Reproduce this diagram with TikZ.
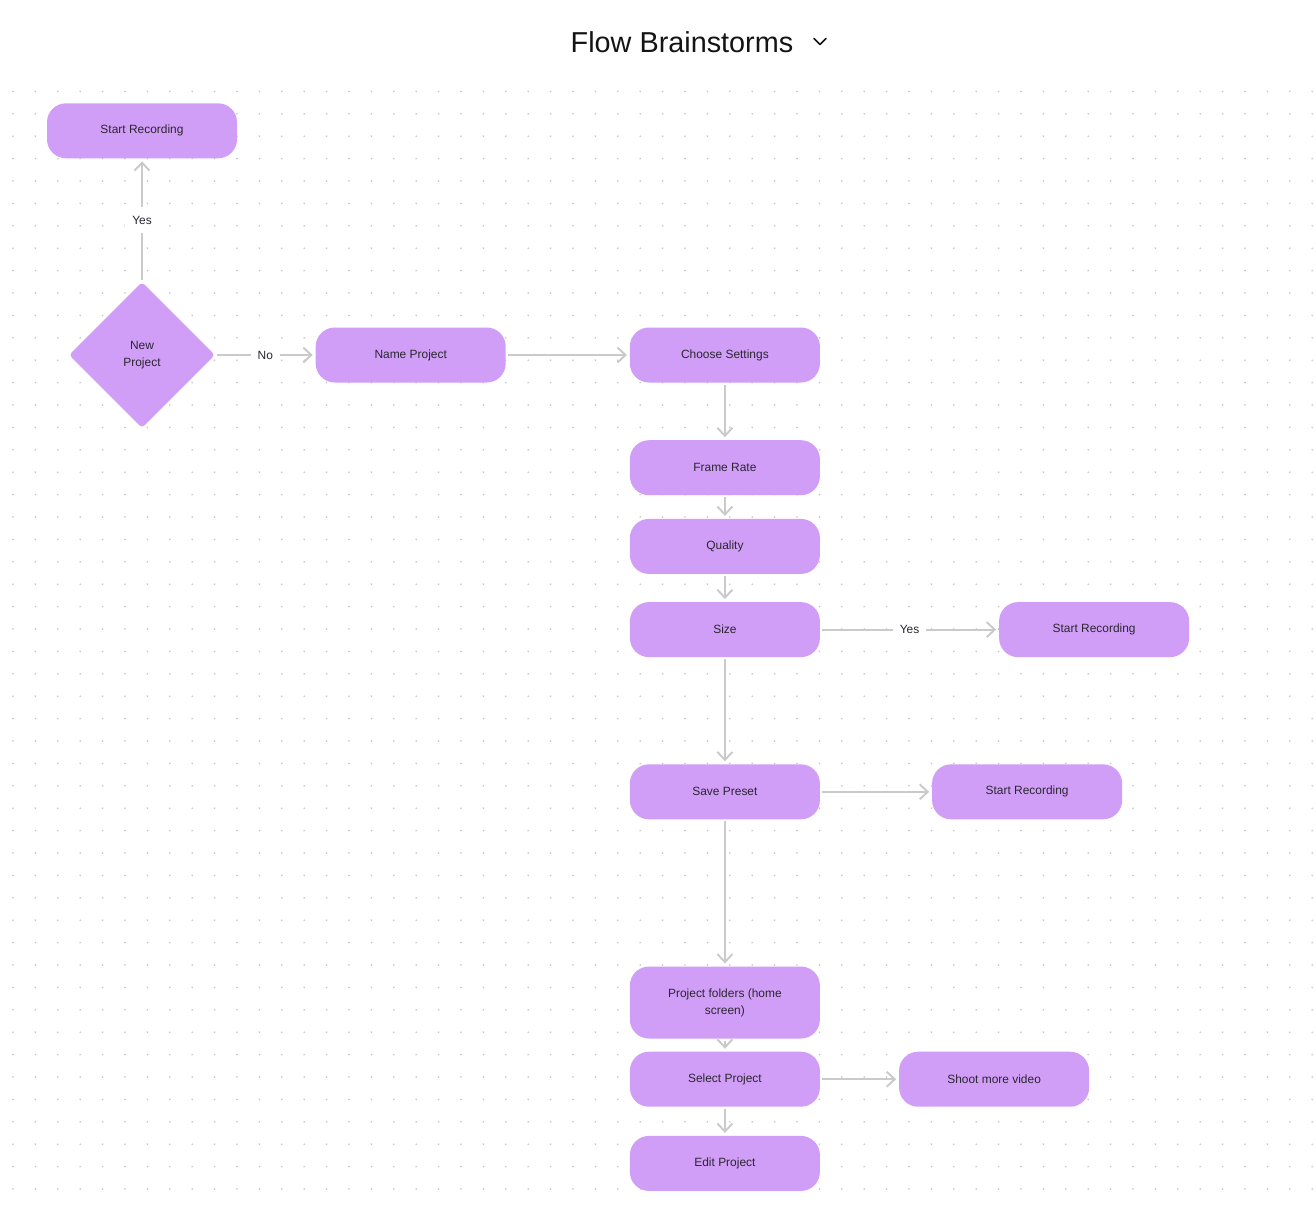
\documentclass[tikz,border=0pt]{standalone}
\usepackage{fontspec}
\setmainfont{Liberation Sans}
\usepackage{xcolor}
\usepackage{tikz}
\usetikzlibrary{shapes.geometric, arrows.meta, positioning, backgrounds}
\definecolor{lilac}{HTML}{D19EF7}
\definecolor{ink}{HTML}{2A2630}
\definecolor{wire}{HTML}{CACACA}
\definecolor{dotgrey}{HTML}{C4C4C4}
\definecolor{headink}{HTML}{141414}
\tikzset{
  box/.style={rectangle, fill=lilac, text=ink, rounded corners=0.38cm, align=center, minimum width=3.8cm, minimum height=1.1cm, font=\fontsize{6.8}{9.6}\selectfont, inner sep=2pt},
  decision/.style={diamond, fill=lilac, text=ink, rounded corners=2pt, align=center, minimum width=2.92cm, minimum height=2.92cm, aspect=1, font=\fontsize{6.8}{9.6}\selectfont, inner sep=0pt},
  arrow/.style={-{Straight Barb[length=0.16cm, width=0.3cm]}, line width=1.1pt, color=wire, shorten <=1pt, shorten >=1.5pt},
  edgelabel/.style={fill=white, text=ink, font=\fontsize{6.8}{9.6}\selectfont, inner xsep=4pt, inner ysep=5pt},
  heading/.style={text=headink, font=\fontsize{16.4}{20}\selectfont, inner sep=0pt},
  chevron/.style={draw=headink, line width=0.9pt, line cap=round, line join=round},
}
\begin{document}
\begin{tikzpicture}
  \useasboundingbox[fill=white] (0,0) rectangle (26.32,-24.3);
  \foreach \i in {0,...,58}
    \foreach \j in {0,...,49}
      \fill[dotgrey] (0.26+0.448*\i, -1.828-0.448*\j) circle (0.018);

  \node[heading] (title) at (13.64,-0.84) {Flow Brainstorms};
  \draw[chevron] (16.28,-0.77) -- ++(0.12,-0.12) -- ++(0.12,0.12);

  \node[decision] (newproj) at (2.84,-7.1) {New\\Project};
  \node[box, above=2.46cm of newproj] (recA) {Start Recording};
  \node[box, right=2cm of newproj] (name) {Name Project};
  \node[box, right=2.47cm of name] (settings) {Choose Settings};
  \node[box, below=1.14cm of settings] (frame) {Frame Rate};
  \node[box, below=4.6mm of frame] (quality) {Quality};
  \node[box, below=5.5mm of quality] (size) {Size};
  \node[box, right=3.57cm of size] (recB) {Start Recording};
  \node[box, below=2.13cm of size] (preset) {Save Preset};
  \node[box, right=2.23cm of preset] (recC) {Start Recording};
  \node[box, below=2.93cm of preset, minimum height=1.44cm] (folders) {Project folders (home\\screen)};
  \node[box, below=2.5mm of folders] (select) {Select Project};
  \node[box, right=1.57cm of select] (shoot) {Shoot more video};
  \node[box, below=5.7mm of select] (edit) {Edit Project};

  \draw[arrow] (newproj) -- node[edgelabel] {Yes} (recA);
  \draw[arrow] (newproj) -- node[edgelabel] {No} (name);
  \draw[arrow] (name) -- (settings);
  \draw[arrow] (settings) -- (frame);
  \draw[arrow] (frame) -- (quality);
  \draw[arrow] (quality) -- (size);
  \draw[arrow] (size) -- node[edgelabel] {Yes} (recB);
  \draw[arrow] (size) -- (preset);
  \draw[arrow] (preset) -- (recC);
  \draw[arrow] (preset) -- (folders);
  \draw[arrow] (folders) -- (select);
  \draw[arrow] (select) -- (shoot);
  \draw[arrow] (select) -- (edit);
\end{tikzpicture}
\end{document}
